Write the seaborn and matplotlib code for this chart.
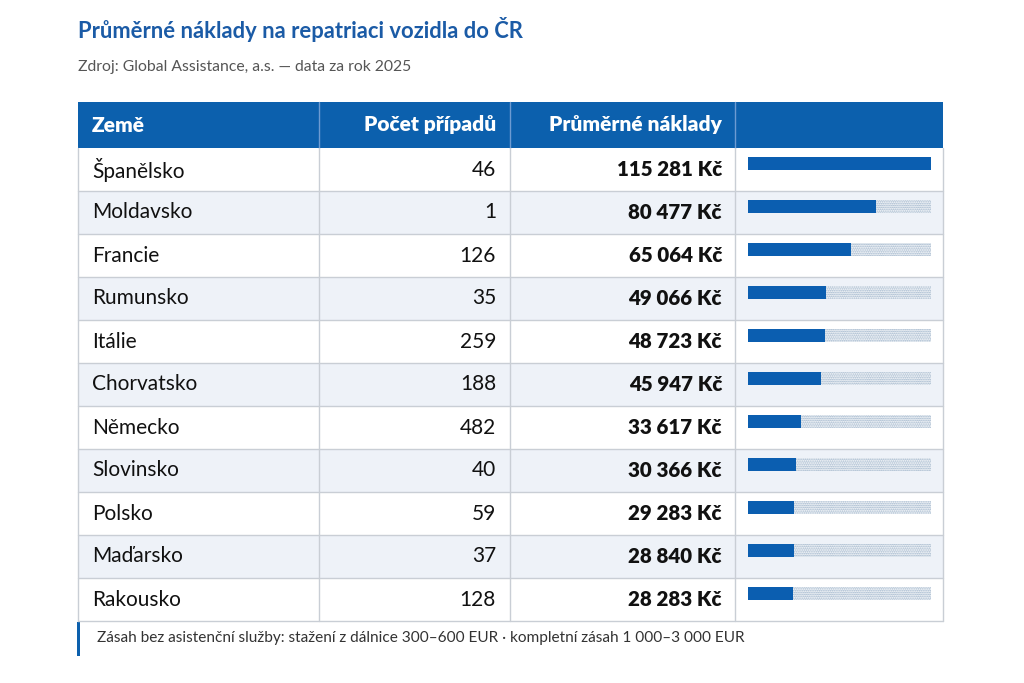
import numpy as np
import seaborn as sns
import matplotlib.pyplot as plt
from matplotlib.patches import Rectangle

# data
countries = ['Španělsko', 'Moldavsko', 'Francie', 'Rumunsko', 'Itálie', 'Chorvatsko',
             'Německo', 'Slovinsko', 'Polsko', 'Maďarsko', 'Rakousko']
cases = [46, 1, 126, 35, 259, 188, 482, 40, 59, 37, 128]
costs = [115281, 80477, 65064, 49066, 48723, 45947, 33617, 30366, 29283, 28840, 28283]
headers = ['Země', 'Počet případů', 'Průměrné náklady', '']

title = 'Průměrné náklady na repatriaci vozidla do ČR'
subtitle = 'Zdroj: Global Assistance, a.s. — data za rok 2025'
note = 'Zásah bez asistenční služby: stažení z dálnice 300–600 EUR · kompletní zásah 1 000–3 000 EUR'

sns.set_theme(style='white')
plt.rcParams['font.family'] = ['Lato', 'DejaVu Sans']

BLUE = '#0b5eb0'
HEAD = '#0c60ad'
STRIPE = '#eef2f8'
LINE = '#c9ced5'
TXT = '#111111'

W, H = 1024, 683
fig = plt.figure(figsize=(W / 100, H / 100), dpi=100)
fig.patch.set_facecolor('white')

# main axes in pixel space for the table frame
ax = fig.add_axes([0, 0, 1, 1])
ax.set_xlim(0, W)
ax.set_ylim(H, 0)
ax.axis('off')

cols = [78, 319, 510, 735, 943]
head_top, head_bot = 102, 148
row_h = 43
n = len(countries)
table_bot = head_bot + n * row_h

# header
ax.add_patch(Rectangle((cols[0], head_top), cols[-1] - cols[0], head_bot - head_top,
                       facecolor=HEAD, edgecolor='none', zorder=1))
for x in cols[1:-1]:
    ax.plot([x, x], [head_top, head_bot], color='#6d9bd2', lw=1, zorder=2)
hy = (head_top + head_bot) / 2
hkw = dict(color='white', fontsize=15, fontweight='heavy', va='center')
ax.text(92, hy, headers[0], ha='left', **hkw)
ax.text(496, hy, headers[1], ha='right', **hkw)
ax.text(722, hy, headers[2], ha='right', **hkw)

# rows
for i, (c, k, v) in enumerate(zip(countries, cases, costs)):
    top = head_bot + i * row_h
    if i % 2 == 1:
        ax.add_patch(Rectangle((cols[0], top), cols[-1] - cols[0], row_h,
                               facecolor=STRIPE, edgecolor='none', zorder=0))
    ax.plot([cols[0], cols[-1]], [top + row_h, top + row_h], color=LINE, lw=1, zorder=2)
    cy = top + row_h / 2
    ax.text(92, cy, c, color=TXT, fontsize=15, ha='left', va='center')
    ax.text(496, cy, str(k), color=TXT, fontsize=15, ha='right', va='center')
    ax.text(722, cy, f'{v:,}'.replace(',', ' ') + ' Kč', color=TXT, fontsize=14.8,
            fontweight='heavy', ha='right', va='center')

for x in cols:
    ax.plot([x, x], [head_bot, table_bot], color=LINE, lw=1, zorder=2)

# titles
ax.text(78, 30, title, color='#1b5ba6', fontsize=15.8, fontweight='bold', ha='left', va='center')
ax.text(78, 67, subtitle, color='#555555', fontsize=11.3, ha='left', va='center')

# footnote
ax.add_patch(Rectangle((77, table_bot + 1), 3, 34, facecolor=HEAD, edgecolor='none'))
ax.text(97, table_bot + 17, note, color='#333333', fontsize=11.1, ha='left', va='center')

# bar column
bx0, bx1 = 748, 931
bax = fig.add_axes([bx0 / W, 1 - table_bot / H, (bx1 - bx0) / W, (n * row_h) / H])
track = [max(costs)] * n
plt.rcParams['hatch.linewidth'] = 0.8
sns.barplot(x=track, y=countries, orient='h', ax=bax, color='white', width=0.31,
            edgecolor='#8fa8c2', linewidth=0, hatch='.........')
sns.barplot(x=costs, y=countries, orient='h', ax=bax, color=BLUE, width=0.31,
            saturation=1, linewidth=0)
bax.set_xlim(0, max(costs))
shift = 0.14
bax.set_ylim(n - 0.5 + shift, -0.5 + shift)
bax.patch.set_alpha(0)
bax.axis('off')

fig.savefig('out.png', dpi=100, facecolor='white')
